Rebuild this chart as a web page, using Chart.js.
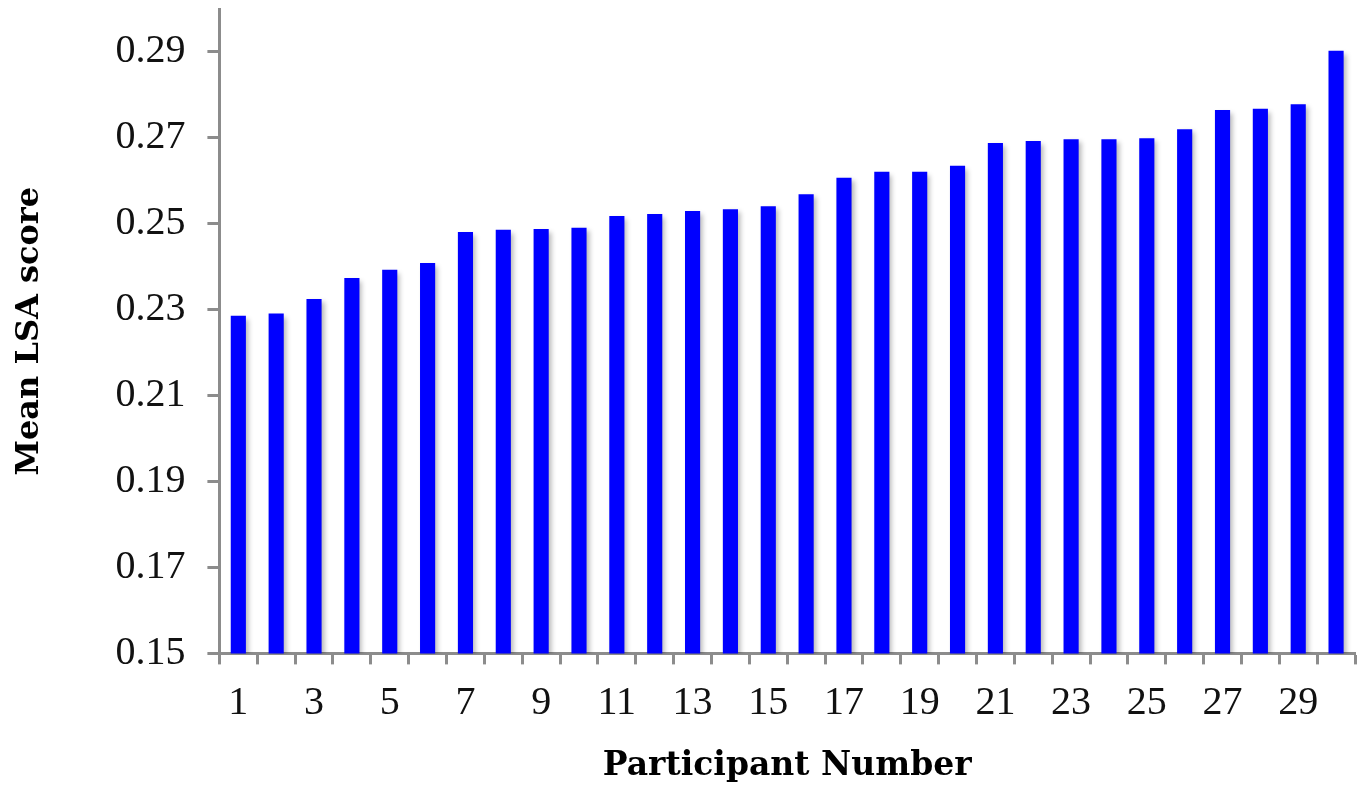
<!DOCTYPE html>
<html>
<head>
<meta charset="utf-8">
<script src="https://cdn.jsdelivr.net/npm/chart.js@4"></script>
<style>
  body { margin: 0; background: #fff; }
  #lsa-chart { display: block; }
</style>
</head>
<body>
<canvas id="lsa-chart" width="1366" height="787"></canvas>
<script>
// participant numbers and their mean LSA score
var participants = [];
for (var i = 1; i <= 30; i++) participants.push(String(i));

var lsaScores = [
	0.2286, 0.2291, 0.2325, 0.2374, 0.2393, 0.2409, 0.2481, 0.2486, 0.2488, 0.2491,
	0.2518, 0.2523, 0.2530, 0.2534, 0.2541, 0.2569, 0.2607, 0.2621, 0.2621, 0.2635,
	0.2688, 0.2693, 0.2697, 0.2697, 0.2699, 0.2720, 0.2765, 0.2768, 0.2778, 0.2903
];

var yTicks = [0.15, 0.17, 0.19, 0.21, 0.23, 0.25, 0.27, 0.29];

var axisGray = '#8c8c8c';
var tickFont = "'Liberation Serif', serif";
var titleFont = "'DejaVu Serif', serif";

// soft drop shadow behind the bars
var barShadow = {
	id: 'barShadow',
	beforeDatasetsDraw: function(chart) {
		var c = chart.ctx;
		c.save();
		c.shadowColor = 'rgba(0,0,0,0.28)';
		c.shadowBlur = 5;
		c.shadowOffsetX = 3;
		c.shadowOffsetY = 3;
	},
	afterDatasetsDraw: function(chart) {
		chart.ctx.restore();
	}
};

const ctx = document.getElementById('lsa-chart').getContext('2d');
const lsaChart = new Chart(ctx, {
	type: 'bar',
	data: {
		labels: participants,
		datasets: [
			{
				label: 'Mean LSA score',
				data: lsaScores,
				backgroundColor: '#0000ff',
				borderWidth: 0,
				barPercentage: 0.40,
				categoryPercentage: 1
			}
		]
	},
	plugins: [barShadow],
	options: {
		responsive: false,
		animation: false,
		layout: {
			padding: { top: 9, right: 11, left: 0, bottom: 0 }
		},
		plugins: {
			legend: { display: false },
			tooltip: { enabled: false }
		},
		scales: {
			x: {
				grid: {
					offset: true,
					drawOnChartArea: false,
					drawTicks: true,
					tickLength: 11,
					tickWidth: 3,
					tickColor: axisGray
				},
				border: { color: axisGray, width: 3 },
				ticks: {
					autoSkip: false,
					maxRotation: 0,
					padding: 15,
					color: '#111',
					font: { family: tickFont, size: 40 },
					callback: function(val, idx) {
						return idx % 2 === 0 ? participants[idx] : '';
					}
				},
				title: {
					display: true,
					text: 'Participant Number',
					color: '#000',
					font: { family: titleFont, size: 33, weight: 'bold' },
					padding: { top: 4, bottom: 1 }
				}
			},
			y: {
				min: 0.15,
				max: 0.30,
				afterBuildTicks: function(scale) {
					scale.ticks = yTicks.map(function(v) { return { value: v }; });
				},
				afterFit: function(scale) {
					// the top label sits below the axis end, no room needed for it
					scale.paddingTop = 0;
					scale.paddingBottom = 0;
				},
				grid: {
					drawOnChartArea: false,
					drawTicks: true,
					tickLength: 12,
					tickWidth: 3,
					tickColor: axisGray
				},
				border: { color: axisGray, width: 3 },
				ticks: {
					padding: 22,
					color: '#111',
					font: { family: tickFont, size: 40 },
					callback: function(val) {
						return val.toFixed(2);
					}
				},
				title: {
					display: true,
					text: 'Mean LSA score',
					color: '#000',
					font: { family: titleFont, size: 32, weight: 'bold' },
					padding: { top: 10, bottom: 45 }
				}
			}
		}
	}
});
</script>
</body>
</html>
